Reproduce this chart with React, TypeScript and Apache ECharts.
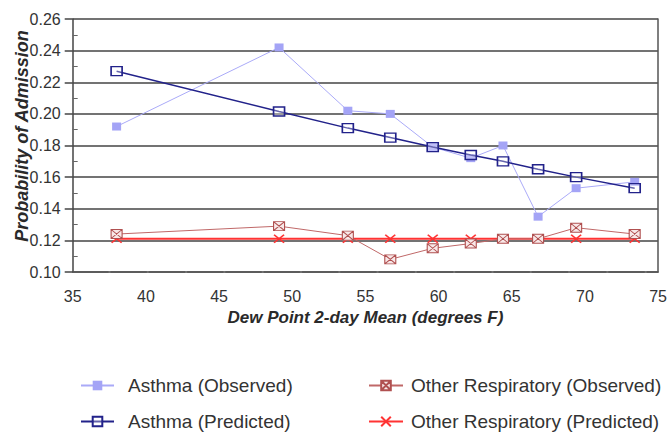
import React, { useEffect, useRef } from "react";
import * as echarts from "echarts";

const dewPoint = [38.0, 49.1, 53.8, 56.7, 59.6, 62.2, 64.4, 66.8, 69.4, 73.4];
const asthmaObserved = [0.192, 0.242, 0.202, 0.2, 0.179, 0.172, 0.18, 0.135, 0.153, 0.157];
const asthmaPredicted = [0.227, 0.2015, 0.191, 0.185, 0.179, 0.174, 0.17, 0.165, 0.16, 0.153];
const otherObserved = [0.124, 0.129, 0.123, 0.108, 0.115, 0.118, 0.121, 0.121, 0.128, 0.124];
const otherPredicted = [0.121, 0.121, 0.121, 0.121, 0.121, 0.121, 0.121, 0.121, 0.121, 0.121];
const yTicks = [0.1, 0.12, 0.14, 0.16, 0.18, 0.2, 0.22, 0.24, 0.26];
const xTicks = [35, 40, 45, 50, 55, 60, 65, 70, 75];

const pair = (ys: number[]) => dewPoint.map((x, i) => [x, ys[i]]);

const FONT = "Liberation Sans, Arial, sans-serif";

export default function App() {
  const ref = useRef<HTMLDivElement>(null);
  useEffect(() => {
    if (!ref.current) return;
    const chart = echarts.init(ref.current, undefined, { renderer: "svg" });
    const boxX = "path://M0,0H10V8H0Z M0,0L10,8 M10,0L0,8";
    const crossSym = "path://M0,0L10,10 M10,0L0,10";
    const legendText = (pad: number) => ({
      fontFamily: FONT,
      fontSize: 19,
      color: "#333",
      padding: [0, 0, 0, pad],
    });
    const mkLegend = (name: string, left: number, top: number, w: number, pad: number) => ({
      orient: "horizontal",
      left,
      top,
      padding: 0,
      itemWidth: w,
      itemHeight: 12,
      textStyle: legendText(pad),
      data: [name],
    });
    chart.setOption({
      animation: false,
      backgroundColor: "#ffffff",
      grid: { left: 72.7, right: 10, top: 19, bottom: 160 },
      xAxis: {
        type: "value",
        min: xTicks[0],
        max: xTicks[xTicks.length - 1],
        interval: 5,
        name: "Dew Point 2-day Mean (degrees F)",
        nameLocation: "middle",
        nameGap: 34,
        nameTextStyle: { fontFamily: FONT, fontSize: 17, fontWeight: "bold", fontStyle: "italic", color: "#2a2a2a" },
        axisLine: { show: true, lineStyle: { color: "#555", width: 1.5, type: [35.3, 3] } },
        axisTick: { show: false },
        axisLabel: { margin: 16, fontFamily: FONT, fontSize: 16, color: "#333" },
        splitLine: { show: false },
      },
      yAxis: [
        {
          type: "value",
          min: yTicks[0],
          max: yTicks[yTicks.length - 1],
          interval: 0.02,
          axisLine: { show: true, lineStyle: { color: "#444", width: 1.5 } },
          axisTick: { show: true, length: 8, lineStyle: { color: "#444", width: 1.5 } },
          axisLabel: {
            margin: 12,
            fontFamily: FONT,
            fontSize: 16,
            color: "#333",
            formatter: (v: number) => v.toFixed(2),
          },
          splitLine: { show: true, lineStyle: { color: "#444", width: 1.5 } },
        },
        {
          type: "value",
          min: yTicks[0],
          max: yTicks[yTicks.length - 1],
          interval: 0.02,
          position: "left",
          axisLine: { show: false },
          axisTick: { show: false, inside: true },
          minorTick: { show: true, splitNumber: 2, length: 5, lineStyle: { color: "#666", width: 1 } },
          axisLabel: { show: false },
          splitLine: { show: false },
        },
        {
          type: "value",
          min: yTicks[0],
          max: yTicks[yTicks.length - 1],
          interval: 0.02,
          position: "right",
          axisLine: { show: true, lineStyle: { color: "#555", width: 1.5 } },
          axisTick: { show: false },
          axisLabel: { show: false },
          splitLine: { show: false },
        },
      ],
      legend: [
        mkLegend("Asthma (Observed)", 80, 376, 33, 9),
        mkLegend("Asthma (Predicted)", 80, 412, 33, 9),
        mkLegend("Other Respiratory (Observed)", 368, 376, 34, 3),
        mkLegend("Other Respiratory (Predicted)", 368, 412, 34, 3),
      ],
      graphic: [
        {
          type: "text",
          x: 22,
          y: 136,
          rotation: Math.PI / 2,
          style: {
            text: "Probability of Admission",
            fontFamily: FONT,
            fontSize: 18,
            fontWeight: "bold",
            fontStyle: "italic",
            fill: "#2a2a2a",
            align: "center",
            verticalAlign: "middle",
          },
        },
      ],
      series: [
        {
          name: "Other Respiratory (Predicted)",
          type: "line",
          data: pair(otherPredicted),
          symbol: crossSym,
          symbolSize: [10, 8],
          lineStyle: { color: "#ff3333", width: 2 },
          itemStyle: { color: "rgba(0,0,0,0)", borderColor: "#ff3333", borderWidth: 1.5 },
          z: 2,
        },
        {
          name: "Other Respiratory (Observed)",
          type: "line",
          data: pair(otherObserved),
          symbol: boxX,
          symbolSize: [11, 9],
          lineStyle: { color: "#c06868", width: 1 },
          itemStyle: { color: "#f8e8e8", borderColor: "#b05050", borderWidth: 1 },
          z: 3,
        },
        {
          name: "Asthma (Observed)",
          type: "line",
          data: pair(asthmaObserved),
          symbol: "rect",
          symbolSize: [9, 8],
          lineStyle: { color: "#aaaaf8", width: 1 },
          itemStyle: { color: "#a4a4f6" },
          z: 4,
        },
        {
          name: "Asthma (Predicted)",
          type: "line",
          data: pair(asthmaPredicted),
          symbol: "rect",
          symbolSize: [11, 9],
          lineStyle: { color: "#22228a", width: 1.5 },
          itemStyle: { color: "rgba(255,255,255,0.3)", borderColor: "#22228a", borderWidth: 1.5 },
          z: 5,
        },
      ],
    });
    return () => chart.dispose();
  }, []);
  return <div ref={ref} style={{ width: 670, height: 432, position: "absolute", left: 0, top: 0 }} />;
}
